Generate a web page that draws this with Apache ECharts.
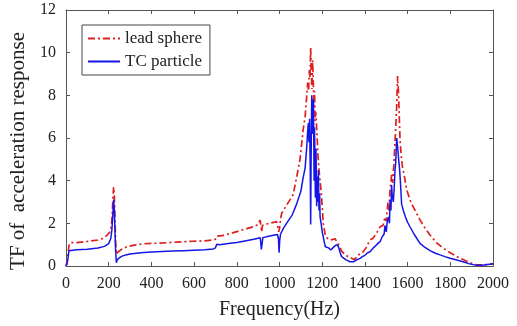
<!DOCTYPE html>
<html>
<head>
<meta charset="utf-8">
<script src="https://cdn.jsdelivr.net/npm/echarts@6/dist/echarts.min.js"></script>
<style>html,body{margin:0;padding:0;background:#fff}#c{width:517px;height:326px}</style>
</head>
<body>
<div id="c"></div>
<script>
const xTicks = [0,200,400,600,800,1000,1200,1400,1600,1800,2000];
const yTicks = [0,2,4,6,8,10,12];
const seriesNames = ['lead sphere','TC particle'];

const leadFreq = [0,5,10,14,20,50,100,150,175,190,206,212,216,220,223,226,229,232,236,240,245,260,284,320,362,400,440,518,596,650,690,700,706,713,730,780,846,880,900,909,913,916,920,925,950,987,992,996,1000,1005,1010,1030,1049,1064,1081,1096,1111,1120,1127,1132,1136,1140,1143,1146,1149,1152,1155,1158,1161,1164,1167,1170,1175,1180,1185,1190,1195,1200,1205,1210,1215,1225,1237,1250,1260,1268,1280,1291,1305,1320,1335,1350,1365,1377,1391,1405,1424,1438,1455,1471,1485,1494,1500,1508,1513,1518,1522,1525,1530,1533,1537,1541,1545,1549,1553,1557,1561,1565,1570,1575,1585,1595,1611,1630,1658,1680,1705,1735,1766,1800,1830,1860,1892,1920,1950,1975,2000];
const leadTF = [0,0.2,0.6,0.95,1.1,1.1,1.15,1.22,1.3,1.42,1.6,1.85,2.3,3.2,3.7,3.4,2.4,1.2,0.55,0.6,0.67,0.78,0.9,0.98,1.04,1.06,1.07,1.12,1.16,1.18,1.22,1.26,1.4,1.45,1.42,1.55,1.75,1.85,1.95,2.15,1.9,1.6,1.9,1.95,2.0,2.08,2.0,1.6,1.75,2.2,2.47,2.8,3.1,3.35,4.2,5.0,6.4,7.0,7.9,8.6,8.2,9.2,8.8,10.25,9.0,8.3,9.65,8.7,7.5,8.2,6.8,7.2,6.3,5.2,4.5,4.0,3.5,2.8,2.0,1.7,1.4,1.3,1.22,1.25,1.28,1.22,0.95,0.7,0.55,0.44,0.38,0.3,0.45,0.6,0.65,0.85,1.22,1.3,1.55,1.84,1.9,2.3,2.1,3.0,2.6,3.6,3.9,4.35,3.9,4.35,5.0,5.8,6.6,7.5,8.9,8.2,7.0,5.8,5.2,4.7,4.2,3.6,3.1,2.7,2.16,1.8,1.45,1.1,0.84,0.62,0.44,0.3,0.15,0.07,0.05,0.07,0.1];

const tcFreq = [0,5,10,14,20,50,100,150,180,200,210,215,220,223,226,229,232,236,240,250,260,280,300,350,400,450,500,550,600,650,690,700,706,712,720,760,800,850,880,900,910,915,918,922,930,960,990,995,998,1001,1005,1020,1040,1060,1080,1100,1110,1120,1127,1132,1135,1138,1141,1144,1146,1148,1151,1153,1156,1159,1162,1164,1166,1168,1171,1174,1177,1180,1182,1185,1188,1190,1195,1200,1205,1210,1215,1220,1230,1240,1250,1260,1270,1276,1285,1291,1300,1310,1320,1330,1346,1360,1377,1390,1400,1410,1424,1440,1450,1460,1471,1480,1490,1494,1500,1505,1510,1515,1518,1522,1525,1528,1533,1537,1541,1544,1547,1549,1552,1555,1558,1562,1566,1572,1580,1590,1600,1611,1630,1658,1680,1705,1730,1752,1775,1799,1830,1860,1890,1923,1950,1975,2000];
const tcTF = [0,0.1,0.4,0.72,0.76,0.76,0.79,0.84,0.92,1.05,1.3,1.7,2.5,3.1,2.7,1.8,0.8,0.15,0.3,0.38,0.45,0.52,0.56,0.62,0.66,0.68,0.7,0.72,0.74,0.76,0.8,0.85,1.02,1.05,1.0,1.05,1.1,1.2,1.25,1.3,1.32,0.78,1.0,1.33,1.35,1.42,1.48,1.3,0.62,1.2,1.5,1.8,2.1,2.4,2.9,3.5,4.1,4.6,5.5,6.3,6.7,5.8,6.9,4.5,1.95,5.0,8.0,7.5,6.2,7.8,4.0,6.5,5.1,3.2,5.5,2.8,4.2,3.0,4.5,2.6,3.4,2.3,2.0,1.6,1.37,1.1,0.9,0.82,0.85,0.75,0.85,0.95,1.0,0.9,0.6,0.44,0.38,0.3,0.25,0.2,0.2,0.28,0.36,0.45,0.5,0.6,0.67,0.85,0.95,1.05,1.14,1.35,1.5,1.9,1.6,2.1,2.3,2.0,3.1,2.6,3.8,3.3,3.0,3.6,4.5,4.8,5.5,6.0,5.7,5.4,5.0,4.6,4.0,2.9,2.6,2.3,2.05,1.84,1.5,1.06,0.88,0.72,0.6,0.52,0.44,0.36,0.28,0.2,0.1,0.03,0.04,0.07,0.1];

const font = '"Liberation Serif","Times New Roman",serif';
const axisCol = '#555';
const chart = echarts.init(document.getElementById('c'), null, {renderer:'canvas'});
const xa = (pos, show) => ({
  type:'value', position:pos, min:xTicks[0], max:xTicks[xTicks.length-1], interval:xTicks[1]-xTicks[0],
  axisLine:{show:true, onZero:false, lineStyle:{color:axisCol, width:1}},
  axisTick:{show:true, inside:true, length:4, lineStyle:{color:axisCol}},
  axisLabel:{show:show, color:'#222', fontFamily:font, fontSize:16, margin:10, formatter:v=>String(v)},
  splitLine:{show:false},
  name: show ? 'Frequency(Hz)' : '', nameLocation:'middle', nameGap:34,
  nameTextStyle:{color:'#222', fontFamily:font, fontSize:20}
});
const ya = (pos, show) => ({
  type:'value', position:pos, min:yTicks[0], max:yTicks[yTicks.length-1], interval:yTicks[1]-yTicks[0],
  axisLine:{show:true, onZero:false, lineStyle:{color:axisCol, width:1}},
  axisTick:{show:true, inside:true, length:4, lineStyle:{color:axisCol}},
  axisLabel:{show:show, color:'#222', fontFamily:font, fontSize:16, margin:10, formatter:v=>String(v)},
  splitLine:{show:false},
  name: show ? 'TF of  acceleration response' : '', nameLocation:'middle', nameGap:30,
  nameTextStyle:{color:'#222', fontFamily:font, fontSize:21, padding:[0,26,0,0]}
});
chart.setOption({
  animation:false,
  backgroundColor:'#fff',
  grid:{left:66, right:24, top:10, bottom:60},
  xAxis:[xa('bottom', true), xa('top', false)],
  yAxis:[ya('left', true), ya('right', false)],
  legend:{
    orient:'vertical', left:82, top:25, itemWidth:32, itemHeight:10, itemGap:6,
    padding:[5,8,5,5], borderColor:'#444', borderWidth:1, backgroundColor:'#fff',
    textStyle:{fontFamily:font, fontSize:17, color:'#222'},
    itemStyle:{opacity:0},
    data:[{name:seriesNames[0]},{name:seriesNames[1]}]
  },
  series:[
    {name:seriesNames[0], type:'line', symbol:'none', xAxisIndex:0, yAxisIndex:0,
     lineStyle:{color:'#e01e1e', width:1.7, type:[7,3,2,3]}, itemStyle:{color:'#e01e1e'},
     data: leadFreq.map((f,i)=>[f, leadTF[i]]), z:2},
    {name:seriesNames[1], type:'line', symbol:'none', xAxisIndex:0, yAxisIndex:0,
     lineStyle:{color:'#1515e8', width:1.5}, itemStyle:{color:'#1515e8'},
     data: tcFreq.map((f,i)=>[f, tcTF[i]]), z:3}
  ]
});
</script>
</body>
</html>
